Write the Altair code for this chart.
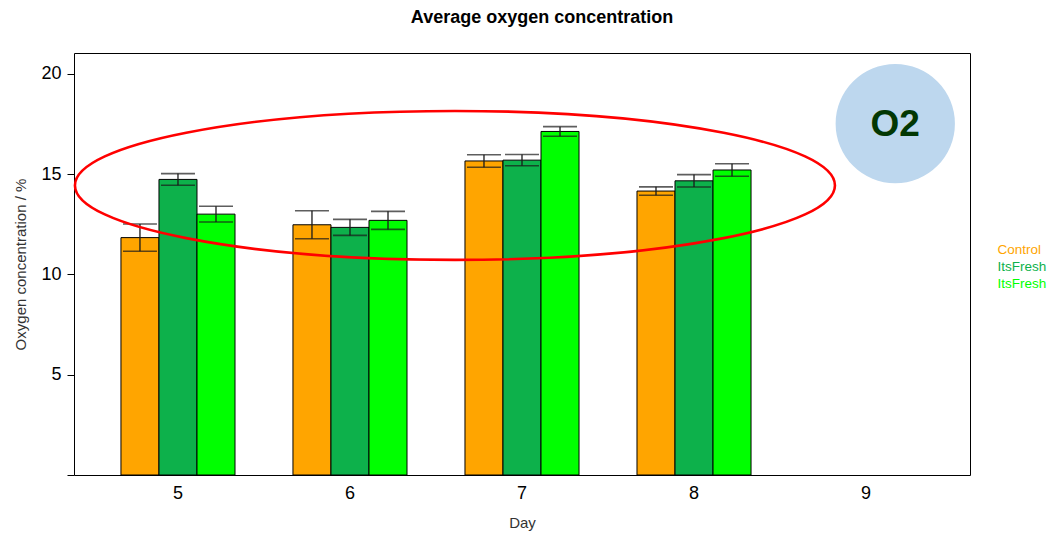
import altair as alt
import pandas as pd

# ---- data ----
days = ["5", "6", "7", "8"]
all_days = ["5", "6", "7", "8", "9"]
series = ["Control", "ItsFresh .", "ItsFresh"]
colors = ["#FFA500", "#0DB14B", "#00FF00"]

control_mean = [11.83, 12.47, 15.65, 14.15]
control_err = [0.68, 0.70, 0.31, 0.21]
fresh_a_mean = [14.73, 12.34, 15.69, 14.66]
fresh_a_err = [0.29, 0.40, 0.28, 0.31]
fresh_b_mean = [13.00, 12.69, 17.12, 15.20]
fresh_b_err = [0.39, 0.45, 0.24, 0.31]

y_ticks = [0, 5, 10, 15, 20]

# annotations (data coordinates: day, %)
ellipse_x = [6.616]
ellipse_y = [14.43]
badge_x = [9.176]
badge_y = [17.51]
badge_label = ["O2"]

# ---- tables ----
rows = []
for s, means, errs in zip(series,
                          [control_mean, fresh_a_mean, fresh_b_mean],
                          [control_err, fresh_a_err, fresh_b_err]):
    for d, m, e in zip(days, means, errs):
        rows.append({"day": d, "series": s, "mean": m, "err": e})
df = pd.DataFrame(rows)
ann_e = pd.DataFrame({"x": ellipse_x, "y": ellipse_y})
ann_b = pd.DataFrame({"x": badge_x, "y": badge_y, "label": badge_label})

FONT = "Liberation Sans"

y_scale = alt.Scale(domain=[0, 21.03], nice=False, zero=True)
y_axis = alt.Axis(values=y_ticks, labelExpr="datum.value == 0 ? '' : datum.label",
                  title="Oxygen concentration / %", tickSize=7, tickColor="black",
                  labelPadding=6, labelFontSize=18, labelColor="black",
                  titleFontSize=15, titleColor="#333333", titleFontWeight="normal",
                  titlePadding=12, domain=False, grid=False)

x_scale = alt.Scale(domain=all_days, paddingInner=0.337, paddingOuter=0.273)
x_axis = alt.Axis(title="Day", labelAngle=0, ticks=False, tickSize=0, domain=False,
                  labelFontSize=18, labelColor="black", labelPadding=9,
                  titleFontSize=15, titleColor="#333333", titleFontWeight="normal",
                  titlePadding=13, grid=False)
x_enc = alt.X("day:N", scale=x_scale, axis=x_axis)
xoff = alt.XOffset("series:N", scale=alt.Scale(domain=series, paddingInner=0, paddingOuter=0))

label_color_expr = ("datum.label == 'Control' ? '#FFA500' : "
                    "(datum.label == 'ItsFresh' ? '#00FF00' : '#0DB14B')")

base = alt.Chart(df).transform_calculate(
    lo="datum.mean - datum.err", hi="datum.mean + datum.err"
)

bars = base.mark_bar(stroke="black", strokeWidth=1).encode(
    x=x_enc, xOffset=xoff,
    y=alt.Y("mean:Q", scale=y_scale, axis=y_axis),
    color=alt.Color("series:N", scale=alt.Scale(domain=series, range=colors),
                    legend=alt.Legend(title=None, orient="none", legendX=910, legendY=190,
                                      symbolSize=0, symbolOpacity=0, symbolStrokeWidth=0,
                                      labelOffset=0, labelFontSize=13.5, labelFont=FONT,
                                      labelColor={"expr": label_color_expr},
                                      rowPadding=2, padding=0)),
)

err_rule = base.mark_rule(color="#1a1a1a", strokeWidth=1.3).encode(
    x=x_enc, xOffset=xoff,
    y=alt.Y("lo:Q", scale=y_scale, axis=y_axis), y2="hi:Q",
)
cap_lo = base.mark_tick(color="#1a1a1a", size=34, thickness=1.6).encode(
    x=x_enc, xOffset=xoff, y=alt.Y("lo:Q", scale=y_scale, axis=y_axis),
)
cap_hi = base.mark_tick(color="#1a1a1a", size=34, thickness=1.6).encode(
    x=x_enc, xOffset=xoff, y=alt.Y("hi:Q", scale=y_scale, axis=y_axis),
)

main = alt.layer(bars, err_rule, cap_lo, cap_hi)

ax = alt.X("x:Q", scale=alt.Scale(domain=[4.4012, 9.6105], nice=False, zero=False), axis=None)
ay = alt.Y("y:Q", scale=y_scale, axis=y_axis)

ELLIPSE = ("M-1,0C-1,-0.1083,-0.5523,-0.196,0,-0.196C0.5523,-0.196,1,-0.1083,1,0"
           "C1,0.1083,0.5523,0.196,0,0.196C-0.5523,0.196,-1,0.1083,-1,0Z")

ellipse = alt.Chart(ann_e).mark_point(shape=ELLIPSE, size=760 ** 2, filled=False,
                                      stroke="#FF0000", strokeWidth=2.6, opacity=1).encode(x=ax, y=ay)
badge = alt.Chart(ann_b).mark_circle(size=119.3 ** 2, color="#BDD7EE", opacity=1).encode(x=ax, y=ay)
badge_text = alt.Chart(ann_b).mark_text(font=FONT, fontSize=37, fontWeight="bold",
                                        color="#033803", baseline="middle", dy=1).encode(
    x=ax, y=ay, text="label:N")

ann = alt.layer(ellipse, badge, badge_text)

chart = alt.layer(main, ann).resolve_scale(x="independent").properties(
    width=896, height=422,
    padding={"left": 66, "top": 45, "right": 78, "bottom": 60},
    autosize=alt.AutoSizeParams(type="none"),
    title=alt.Title("Average oxygen concentration", font=FONT, fontSize=18, fontWeight="bold",
                    color="black", anchor="middle", dx=20, offset=12, baseline="alphabetic",
                    frame="group"),
).configure(font=FONT, background="white").configure_view(stroke="black", strokeWidth=1)

chart.save("out.html", embed_options={"renderer": "svg", "actions": False})
